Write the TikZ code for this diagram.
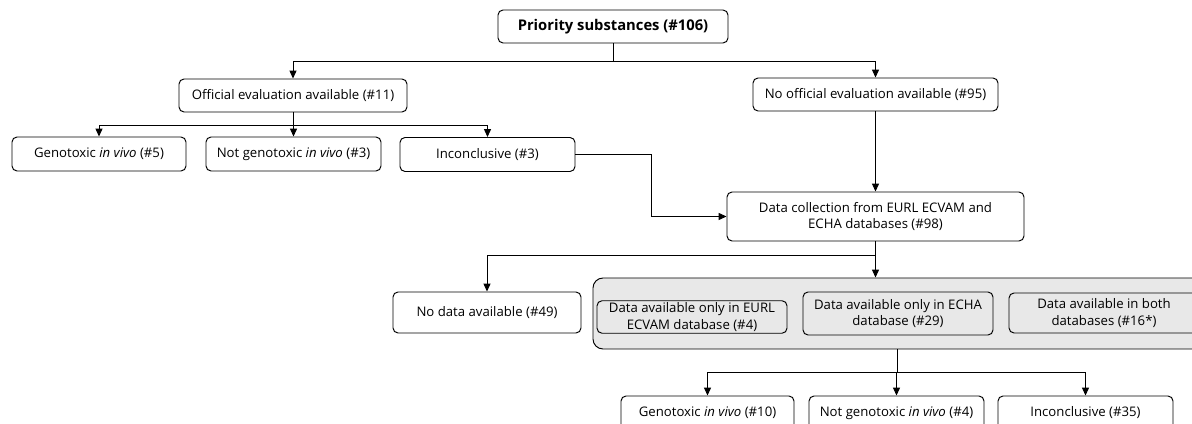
\documentclass[tikz,border=0pt]{standalone}
\usepackage{fontspec}
\setmainfont{Open Sans}
\usetikzlibrary{arrows.meta}
\begin{document}
\begin{tikzpicture}[x=0.2mm, y=-0.2mm, >={Triangle[length=4.5pt,width=4pt]}, line width=0.55pt,
  box/.style={draw, rounded corners=1mm, fill=white, align=center, inner sep=1pt, font=\fontsize{7.5}{9.6}\selectfont},
  subbox/.style={box, fill=gray!18},
  panel/.style={draw, rounded corners=2mm, fill=gray!18}]
\useasboundingbox (0,0) rectangle (1192,424);
\clip (0,0) rectangle (1192,424);
% top
\node[box, minimum width=46mm, minimum height=6.6mm, font=\fontsize{8.4}{9.6}\selectfont\bfseries] (prio) at (613,26.5) {Priority substances (\#106)};
\node[box, minimum width=45.6mm, minimum height=6.6mm] (off) at (293,95.5) {Official evaluation available (\#11)};
\node[box, minimum width=49mm, minimum height=6.6mm] (nooff) at (875.5,94.5) {No official evaluation available (\#95)};
% official evaluation outcomes
\node[box, minimum width=34.8mm, minimum height=6.8mm] (geno1) at (99,154) {Genotoxic \textit{in vivo} (\#5)};
\node[box, minimum width=35mm, minimum height=6.8mm] (notg1) at (293.5,154) {Not genotoxic \textit{in vivo} (\#3)};
\node[box, minimum width=35mm, minimum height=6.8mm] (inc1) at (487.5,154.5) {Inconclusive (\#3)};
% data collection
\node[box, minimum width=59.4mm, minimum height=9.8mm] (coll) at (875.5,216.5) {Data collection from EURL ECVAM and\\ECHA databases (\#98)};
\node[box, minimum width=37.6mm, minimum height=8.2mm] (nodata) at (487,312.5) {No data available (\#49)};
\node[panel, minimum width=122.4mm, minimum height=14.2mm] (data) at (899,313.5) {};
\node[subbox, minimum width=38mm, minimum height=6mm] (eurl) at (692,317) {Data available only in EURL\\ECVAM database (\#4)};
\node[subbox, minimum width=38mm, minimum height=8.6mm] (echa) at (898,313.5) {Data available only in ECHA\\database (\#29)};
\node[subbox, minimum width=38mm, minimum height=8mm] (both) at (1104,313) {Data available in both\\databases (\#16*)};
% outcomes
\node[box, minimum width=34.6mm, minimum height=6.8mm] (geno2) at (707.5,413) {Genotoxic \textit{in vivo} (\#10)};
\node[box, minimum width=35mm, minimum height=6.8mm] (notg2) at (896.5,413) {Not genotoxic \textit{in vivo} (\#4)};
\node[box, minimum width=35mm, minimum height=6.8mm] (inc2) at (1085.5,413) {Inconclusive (\#35)};
% junctions
\coordinate (j1) at (613,61);
\coordinate (j2) at (293,125);
\coordinate (j3) at (651,216.5);
\coordinate (j4) at (875.5,255);
\coordinate (j5) at (897,372);
\draw (prio) -- (j1);
\draw[->] (j1) -| (off);
\draw[->] (j1) -| (nooff);
\draw (off) -- (j2);
\draw[->] (j2) -| (geno1);
\draw[->] (j2) -| (notg1);
\draw[->] (j2) -| (inc1);
\draw[->] (inc1) -| (j3) -- (coll);
\draw[->] (nooff) -- (coll);
\draw (coll) -- (j4);
\draw[->] (j4) -| (nodata);
\draw[->] (j4) -- (j4 |- data.north);
\draw (j5 |- data.south) -- (j5);
\draw[->] (j5) -| (geno2);
\draw[->] (j5) -| (notg2);
\draw[->] (j5) -| (inc2);
\end{tikzpicture}
\end{document}
